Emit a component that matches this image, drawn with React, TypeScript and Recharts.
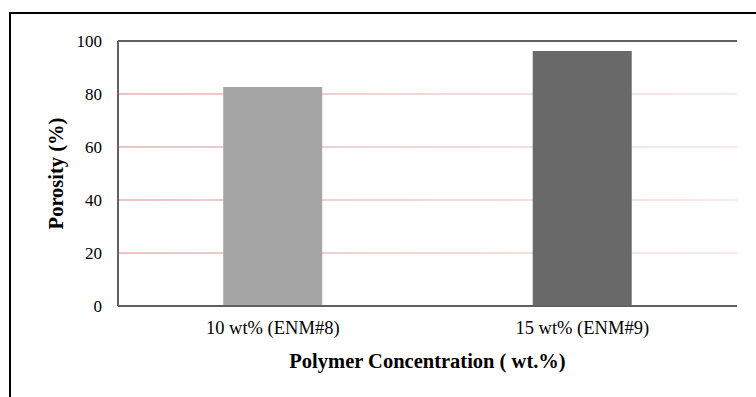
import React from 'react';
import {
  BarChart,
  Bar,
  XAxis,
  YAxis,
  CartesianGrid,
  Cell,
  Label,
  ReferenceLine,
} from 'recharts';

// porosity of the two electrospun mats
const categories = ['10 wt% (ENM#8)', '15 wt% (ENM#9)'];
const porosity = [82.6, 96.2];
const barColors = ['#a5a5a5', '#696969'];
const yTicks = [0, 20, 40, 60, 80, 100];

const chartData = categories.map((name, i) => ({ name, porosity: porosity[i] }));

const serif = '"Liberation Serif", "Times New Roman", serif';
const axisStroke = '#606060';

const App: React.FC = () => {
  return (
    <div style={{ position: 'absolute', left: 0, top: 0, width: 756, height: 397, background: '#fff' }}>
      <div
        style={{
          position: 'absolute',
          left: 9,
          top: 12,
          width: 800,
          height: 420,
          border: '2px solid #000',
          boxSizing: 'border-box',
        }}
      />
      <div style={{ position: 'absolute', left: 0, top: 0 }}>
        <BarChart
          width={756}
          height={397}
          data={chartData}
          margin={{ top: 41, right: 19, left: 0, bottom: 0 }}
          barCategoryGap="34%"
        >
          <defs>
            <linearGradient id="gridFade" gradientUnits="userSpaceOnUse" x1={118} y1={0} x2={737} y2={0}>
              <stop offset="0%" stopColor="#e6b0b0" />
              <stop offset="100%" stopColor="#f6e4e4" />
            </linearGradient>
          </defs>
          <CartesianGrid vertical={false} stroke="url(#gridFade)" strokeWidth={1.5} />
          <XAxis
            dataKey="name"
            height={91}
            tickLine={false}
            tickSize={0}
            tickMargin={15}
            axisLine={{ stroke: axisStroke, strokeWidth: 2 }}
            tick={{ fill: '#000', fontSize: 18.5, fontFamily: serif }}
          >
            <Label
              value="Polymer Concentration ( wt.%)"
              position="insideBottom"
              offset={29}
              style={{ fill: '#000', fontSize: 20.5, fontWeight: 'bold', fontFamily: serif }}
            />
          </XAxis>
          <YAxis
            width={118}
            domain={[0, 100]}
            ticks={yTicks}
            tickLine={false}
            tickSize={0}
            tickMargin={16}
            axisLine={{ stroke: axisStroke, strokeWidth: 2 }}
            tick={{ fill: '#000', fontSize: 17, fontFamily: serif }}
          >
            <Label
              value="Porosity (%)"
              angle={-90}
              position="insideLeft"
              offset={56}
              style={{ fill: '#000', fontSize: 20.5, fontWeight: 'bold', fontFamily: serif, textAnchor: 'middle' }}
            />
          </YAxis>
          <YAxis yAxisId="right" orientation="right" width={0} domain={[0, 100]} tick={false} tickLine={false}
            axisLine={{ stroke: axisStroke, strokeWidth: 2 }} />
          <Bar dataKey="porosity" isAnimationActive={false}>
            {chartData.map((d, i) => (
              <Cell key={d.name} fill={barColors[i]} />
            ))}
          </Bar>
          {/* top edge of the plot frame */}
          <ReferenceLine y={100} stroke={axisStroke} strokeWidth={2} ifOverflow="extendDomain" />
        </BarChart>
      </div>
    </div>
  );
};

export default App;
